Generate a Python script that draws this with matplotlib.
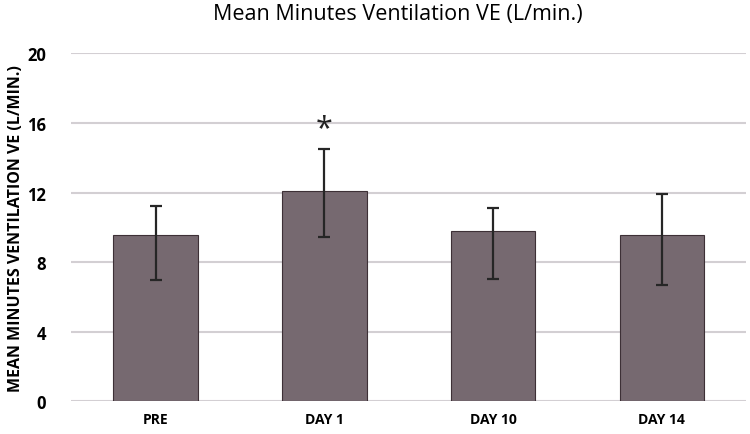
import matplotlib
matplotlib.use("Agg")
import matplotlib.pyplot as plt
import numpy as np

# Data
categories = ["PRE", "DAY 1", "DAY 10", "DAY 14"]
means = [9.55, 12.1, 9.8, 9.55]
err_low = [2.55, 2.65, 2.75, 2.85]
err_high = [1.7, 2.4, 1.3, 2.35]
significant = [False, True, False, False]

plt.rcParams['font.family'] = ['Open Sans', 'DejaVu Sans']

fig = plt.figure(figsize=(7.5, 4.35), dpi=100)
ax = fig.add_axes([0.095, 0.075, 0.90, 0.80])

x = np.arange(len(categories))
ax.bar(x, means, width=0.5, color='#766970', edgecolor='#3d3036',
       linewidth=0.8, zorder=2)
ax.errorbar(x, means, yerr=[err_low, err_high], fmt='none',
            ecolor='#262626', elinewidth=1.6, capsize=4.5, capthick=1.6,
            zorder=3)

for xi, m, hi, sig in zip(x, means, err_high, significant):
    if sig:
        ax.text(xi, 15.7, '*', ha='center', va='center', fontsize=22,
                color='#222222', zorder=4)

ax.set_xlim(-0.5, 3.5)
ax.set_ylim(0, 20)
ax.set_yticks([0, 4, 8, 12, 16, 20])
ax.set_xticks(x)
ax.set_xticklabels(categories, fontsize=10, fontweight='bold')
for lbl in ax.get_yticklabels():
    lbl.set_fontsize(12)
    lbl.set_fontweight('bold')
ax.yaxis.grid(True, color='#d3cfd3', linewidth=1.5, zorder=0)
ax.set_axisbelow(True)
for s in ax.spines.values():
    s.set_visible(False)
ax.tick_params(length=0, pad=8)
ax.tick_params(axis='y', pad=18)

ax.set_ylabel('MEAN MINUTES VENTILATION VE (L/MIN.)', fontsize=11.5,
              fontweight='bold', labelpad=2)
fig.suptitle('Mean Minutes Ventilation VE (L/min.)', fontsize=15.5,
             y=0.99, x=0.53)

fig.savefig('out.png', dpi=100)
